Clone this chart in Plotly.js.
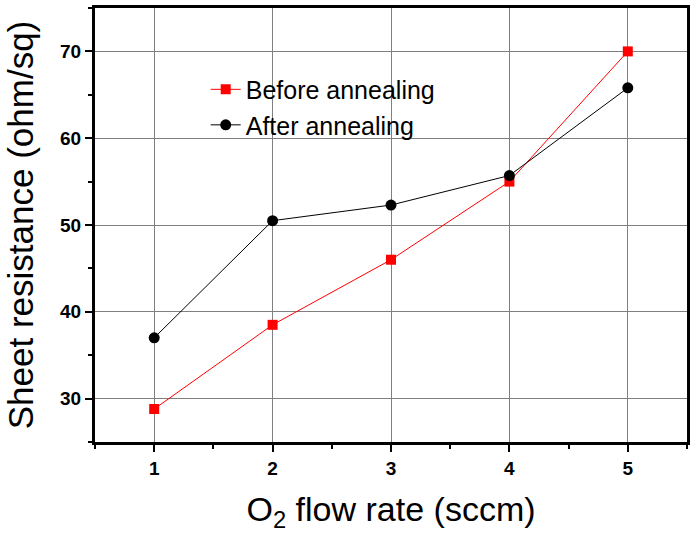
<!DOCTYPE html>
<html>
<head>
<meta charset="utf-8">
<script src="https://cdn.plot.ly/plotly-3.0.1.min.js"></script>
<style>html,body{margin:0;padding:0;background:#fff;}#chart{width:699px;height:533px;}</style>
</head>
<body>
<div id="chart"></div>
<script>
const flowRate = [1, 2, 3, 4, 5];
const beforeAnnealing = [28.8, 38.5, 46.0, 55.0, 70.0];
const afterAnnealing = [37.0, 50.5, 52.3, 55.7, 65.8];
const seriesNames = ["Before annealing", "After annealing"];
const yTicks = [30, 40, 50, 60, 70];

const font = "Arial, 'Liberation Sans', sans-serif";

const traces = [
  {
    x: flowRate, y: beforeAnnealing, name: seriesNames[0],
    type: "scatter", mode: "lines+markers",
    line: {color: "#ff0000", width: 1},
    marker: {symbol: "square", size: 10, color: "#ff0000"}
  },
  {
    x: flowRate, y: afterAnnealing, name: seriesNames[1],
    type: "scatter", mode: "lines+markers",
    line: {color: "#000000", width: 1},
    marker: {symbol: "circle", size: 11, color: "#000000"}
  }
];

const layout = {
  width: 699, height: 533,
  margin: {l: 95, r: 12, t: 8, b: 91},
  paper_bgcolor: "#fff", plot_bgcolor: "#fff",
  showlegend: true,
  legend: {
    x: 0.187, y: 0.865, xanchor: "left", yanchor: "top",
    bgcolor: "rgba(0,0,0,0)",
    font: {family: font, size: 25, color: "#000"},
    tracegroupgap: 0, itemwidth: 30
  },
  xaxis: {
    range: [0.5, 5.5],
    tickvals: flowRate,
    ticks: "outside", ticklen: 7, tickwidth: 2, tickcolor: "#000",
    minor: {dtick: 0.5, ticks: "outside", ticklen: 4, tickwidth: 2, tickcolor: "#000", showgrid: false},
    showline: true, linecolor: "#000", linewidth: 3, mirror: true,
    showgrid: true, gridcolor: "#808080", gridwidth: 1,
    zeroline: false,
    tickfont: {family: font, size: 19, color: "#000", weight: "bold"},
    title: {text: "O<sub>2</sub> flow rate (sccm)", font: {family: font, size: 34, color: "#000"}, standoff: 20}
  },
  yaxis: {
    range: [25, 75],
    tickvals: yTicks,
    ticks: "outside", ticklen: 7, tickwidth: 2, tickcolor: "#000",
    minor: {dtick: 5, ticks: "outside", ticklen: 4, tickwidth: 2, tickcolor: "#000", showgrid: false},
    showline: true, linecolor: "#000", linewidth: 3, mirror: true,
    showgrid: true, gridcolor: "#808080", gridwidth: 1,
    zeroline: false,
    tickfont: {family: font, size: 19, color: "#000", weight: "bold"},
    title: {text: "Sheet resistance (ohm/sq)", font: {family: font, size: 35, color: "#000"}, standoff: 16}
  }
};

Plotly.newPlot("chart", traces, layout, {displayModeBar: false, staticPlot: true});
</script>
</body>
</html>
